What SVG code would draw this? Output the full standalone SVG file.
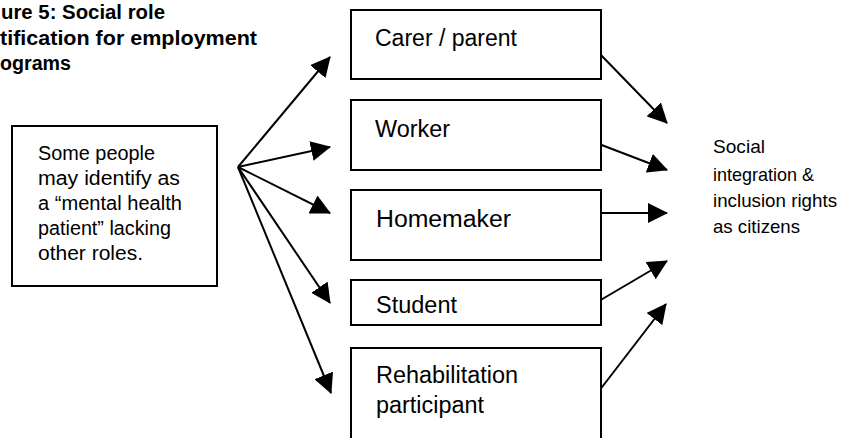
<svg xmlns="http://www.w3.org/2000/svg" width="851" height="438" viewBox="0 0 851 438">
<defs>
<style>
.box{fill:#fff;stroke:#000;stroke-width:2}
.t{font-family:"Liberation Sans",Arial,sans-serif;fill:#000}
.lbl{font-size:23px}
.src{font-size:20px}
.dst{font-size:19px}
.ttl{font-size:19.5px;font-weight:bold}
.con{stroke:#000;stroke-width:2;fill:none;marker-end:url(#ah)}
</style>
<marker id="ah" markerUnits="userSpaceOnUse" markerWidth="20" markerHeight="20" refX="19" refY="10" orient="auto" viewBox="0 0 20 20">
<path d="M0,0 L20,10 L0,20 z" fill="#000"/>
</marker>
</defs>
<rect width="851" height="438" fill="#fff"/>
<g id="title">
<text class="t ttl" x="1" y="19" textLength="164" lengthAdjust="spacingAndGlyphs">ure 5: Social role</text>
<text class="t ttl" x="0" y="44.5" textLength="257" lengthAdjust="spacingAndGlyphs">tification for employment</text>
<text class="t ttl" x="0" y="70" textLength="71" lengthAdjust="spacingAndGlyphs">ograms</text>
</g>
<g id="connectors">
<line class="con" x1="238" y1="167" x2="330" y2="57"/>
<line class="con" x1="238" y1="167" x2="330" y2="147"/>
<line class="con" x1="238" y1="167" x2="330" y2="213"/>
<line class="con" x1="238" y1="167" x2="330" y2="303"/>
<line class="con" x1="238" y1="167" x2="331" y2="393"/>
<line class="con" x1="599" y1="53" x2="667" y2="123"/>
<line class="con" x1="599" y1="144" x2="667" y2="170"/>
<line class="con" x1="599" y1="213" x2="667" y2="213"/>
<line class="con" x1="599" y1="301" x2="667" y2="261"/>
<line class="con" x1="599" y1="391" x2="666" y2="304"/>
</g>
<g id="source">
<rect class="box" x="12" y="126" width="205" height="160"/>
<text class="t src" x="38" y="160" textLength="117" lengthAdjust="spacingAndGlyphs">Some people</text>
<text class="t src" x="38" y="185" textLength="142" lengthAdjust="spacingAndGlyphs">may identify as</text>
<text class="t src" x="38" y="210" textLength="144" lengthAdjust="spacingAndGlyphs">a “mental health</text>
<text class="t src" x="38" y="235" textLength="133" lengthAdjust="spacingAndGlyphs">patient” lacking</text>
<text class="t src" x="38" y="260" textLength="105" lengthAdjust="spacingAndGlyphs">other roles.</text>
</g>
<g id="carer">
<rect class="box" x="351" y="10" width="250" height="69"/>
<text class="t lbl" x="375" y="46" textLength="142" lengthAdjust="spacingAndGlyphs">Carer / parent</text>
</g>
<g id="worker">
<rect class="box" x="351" y="100" width="250" height="70"/>
<text class="t lbl" x="375" y="137" textLength="75" lengthAdjust="spacingAndGlyphs">Worker</text>
</g>
<g id="homemaker">
<rect class="box" x="351" y="190" width="250" height="70"/>
<text class="t lbl" x="376" y="227" textLength="135" lengthAdjust="spacingAndGlyphs">Homemaker</text>
</g>
<g id="student">
<rect class="box" x="351" y="280" width="250" height="45"/>
<text class="t lbl" x="376" y="313" textLength="81" lengthAdjust="spacingAndGlyphs">Student</text>
</g>
<g id="rehabilitation">
<rect class="box" x="351" y="348" width="250" height="95"/>
<text class="t lbl" x="376" y="383" textLength="142" lengthAdjust="spacingAndGlyphs">Rehabilitation</text>
<text class="t lbl" x="376" y="413" textLength="108" lengthAdjust="spacingAndGlyphs">participant</text>
</g>
<g id="outcome">
<text class="t dst" x="713" y="153" textLength="52" lengthAdjust="spacingAndGlyphs">Social</text>
<text class="t dst" x="713" y="181" textLength="101" lengthAdjust="spacingAndGlyphs">integration &amp;</text>
<text class="t dst" x="713" y="207" textLength="124" lengthAdjust="spacingAndGlyphs">inclusion rights</text>
<text class="t dst" x="713" y="233" textLength="87" lengthAdjust="spacingAndGlyphs">as citizens</text>
</g>
</svg>
